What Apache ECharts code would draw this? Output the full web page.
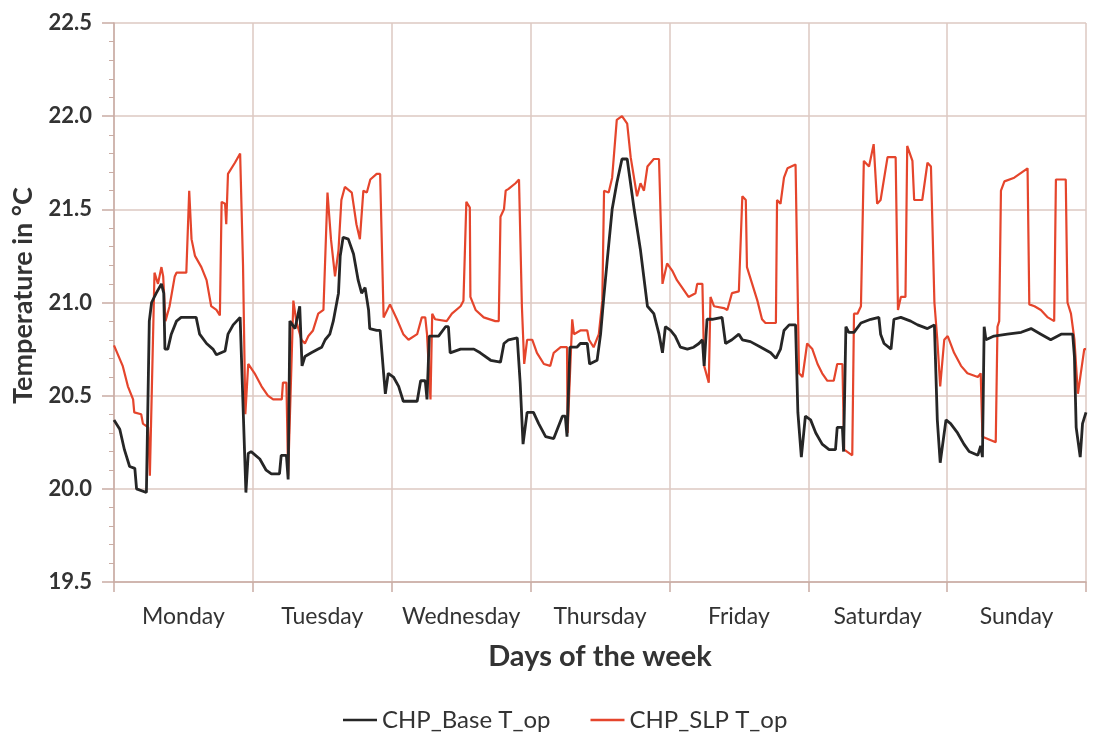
<!DOCTYPE html>
<html>
<head>
<meta charset="utf-8">
<script src="https://cdn.jsdelivr.net/npm/echarts@6/dist/echarts.min.js"></script>
<style>
html,body{margin:0;padding:0;background:#fff;}
#chart{width:1094px;height:740px;}
</style>
</head>
<body>
<div id="chart"></div>
<script>
const days = ['Monday','Tuesday','Wednesday','Thursday','Friday','Saturday','Sunday'];
const seriesNames = ['CHP_Base T_op','CHP_SLP T_op'];

// CHP_Base T_op : hour of week, temperature
const baseHours = [0,1.0,1.8,2.7,3.6,3.9,5.6,5.9,6.1,6.5,7.3,8.2,8.6,8.8,9.3,9.9,10.8,11.6,14.2,14.8,16.0,17.1,17.7,19.2,19.7,20.6,21.8,22.1,22.8,
23.2,23.7,25.2,26.3,27.2,28.6,28.9,29.8,30.1,30.4,31.3,32.1,32.5,33.0,34.1,35.3,35.9,36.5,37.3,37.9,38.8,39.1,39.6,40.5,41.4,42.2,42.8,43.4,44.0,44.2,45.4,46.0,46.6,46.9,47.4,
48.3,49.2,50.0,52.4,53.0,53.8,54.1,54.5,56.1,57.3,57.8,58.1,59.9,62.2,63.3,65.1,66.8,67.4,68.2,69.7,70.2,70.7,71.4,72.5,
73.4,74.6,76.0,77.5,78.0,78.3,78.8,80.0,80.6,81.8,82.2,83.5,84.1,84.6,85.2,86.1,86.9,87.8,88.7,89.9,91.0,92.2,93.3,94.2,94.8,95.3,
96.2,97.0,97.9,99.1,100.2,101.1,101.7,102.0,102.2,102.5,103.4,105.1,105.7,106.8,108.0,108.6,110.0,111.8,113.5,114.4,115.2,115.8,116.7,117.8,118.2,118.8,119.5,
120.4,121.3,122.4,123.6,124.7,125.0,125.9,126.1,126.5,127.0,127.9,129.1,130.8,132.2,132.5,133.1,134.3,134.8,136.0,137.7,138.9,140.6,141.8,142.3,142.8,143.8,
144.6,145.8,146.9,147.8,149.3,149.8,150.1,150.4,150.7,152.1,154.4,156.8,158.5,160.2,161.9,163.7,165.7,166.0,166.3,167.0,167.4,168.0];
const baseTemps = [20.37,20.32,20.21,20.12,20.11,20.0,19.98,19.98,20.9,21.0,21.05,21.1,21.05,20.75,20.75,20.83,20.9,20.92,20.92,20.83,20.78,20.75,20.72,20.74,20.83,20.88,20.92,20.93,19.98,
20.19,20.2,20.16,20.1,20.08,20.08,20.18,20.18,20.05,20.9,20.86,20.98,20.66,20.71,20.73,20.75,20.76,20.8,20.83,20.9,21.05,21.25,21.35,21.34,21.26,21.12,21.05,21.08,20.96,20.86,20.85,20.85,20.62,20.51,20.62,
20.6,20.55,20.47,20.47,20.58,20.58,20.48,20.82,20.82,20.87,20.87,20.73,20.75,20.75,20.73,20.69,20.68,20.78,20.8,20.81,20.57,20.24,20.41,20.41,
20.35,20.28,20.27,20.39,20.39,20.28,20.76,20.76,20.78,20.78,20.67,20.69,20.83,21.01,21.21,21.5,21.64,21.77,21.77,21.5,21.28,20.98,20.94,20.83,20.73,20.87,
20.85,20.82,20.76,20.75,20.76,20.78,20.8,20.66,20.65,20.91,20.91,20.92,20.78,20.8,20.83,20.8,20.79,20.76,20.73,20.7,20.75,20.85,20.88,20.88,20.41,20.17,20.39,
20.37,20.3,20.24,20.21,20.21,20.33,20.33,20.2,20.87,20.84,20.84,20.89,20.91,20.92,20.83,20.78,20.75,20.91,20.92,20.9,20.88,20.86,20.88,20.37,20.14,20.37,
20.35,20.3,20.24,20.2,20.18,20.23,20.17,20.87,20.8,20.82,20.83,20.84,20.86,20.83,20.8,20.83,20.83,20.71,20.33,20.17,20.35,20.41];

// CHP_SLP T_op : hour of week, temperature
const slpHours = [0,1.5,2.4,3.3,3.5,4.7,5.0,5.9,6.2,7.0,7.6,8.2,8.5,8.9,9.6,10.5,10.8,12.5,13.0,13.4,14.0,15.1,16.0,16.8,17.7,18.3,18.6,19.2,19.4,19.7,20.9,21.8,22.3,22.7,23.2,
24.3,25.5,26.6,27.5,29.0,29.2,29.8,30.1,31.0,31.5,32.4,33.0,33.6,34.4,35.3,36.2,36.9,37.5,38.2,38.8,39.3,39.9,41.1,41.9,42.5,43.1,43.7,44.3,45.4,46.0,46.6,47.7,
48.9,50.0,50.9,52.4,53.2,53.8,54.1,54.7,55.0,55.5,57.5,58.4,59.9,60.4,60.9,61.5,61.6,62.5,63.9,65.9,66.5,66.8,67.4,67.7,68.2,69.4,70.0,70.5,70.9,71.4,72.3,
73.1,74.3,75.4,76.0,77.2,78.3,78.4,79.2,79.5,80.6,81.8,82.1,82.9,83.8,84.4,84.7,85.5,86.1,86.9,87.8,88.7,89.3,90.4,91.0,91.6,92.2,93.3,94.2,94.8,95.6,
96.5,97.3,98.2,99.3,100.5,100.8,101.7,102.0,102.8,103.1,103.7,105.4,106.0,106.8,108.0,108.6,109.2,109.4,110.3,111.2,112.0,112.6,114.4,114.6,115.2,115.8,116.4,117.8,118.4,119.0,119.8,
120.7,121.6,122.4,123.3,124.4,125.0,125.9,126.2,127.6,127.9,128.5,129.1,129.6,130.5,131.3,131.9,132.5,133.7,135.1,135.5,136.0,136.8,137.1,138.0,138.3,139.7,140.6,141.2,141.8,142.3,142.8,143.5,
144.1,145.2,146.4,147.5,149.3,149.8,150.1,152.4,152.7,153.0,153.3,153.9,155.6,157.9,158.2,159.1,160.2,161.4,162.5,162.8,164.5,164.8,165.4,166.0,166.6,167.1,167.7,168.0];
const slpTemps = [20.77,20.66,20.55,20.48,20.41,20.4,20.35,20.33,20.07,21.16,21.1,21.19,21.14,20.9,20.98,21.14,21.16,21.16,21.6,21.34,21.25,21.19,21.12,20.98,20.96,20.93,21.54,21.53,21.42,21.69,21.75,21.8,21.2,20.4,20.67,
20.62,20.55,20.5,20.48,20.48,20.57,20.57,20.07,21.01,20.9,20.8,20.78,20.82,20.85,20.94,20.96,21.59,21.34,21.14,21.28,21.55,21.62,21.59,21.42,21.34,21.6,21.59,21.66,21.69,21.69,20.92,20.99,
20.91,20.83,20.8,20.83,20.92,20.92,20.83,20.48,20.94,20.91,20.9,20.94,20.98,21.01,21.54,21.51,21.03,20.96,20.92,20.9,20.9,21.46,21.5,21.6,21.61,21.64,21.66,20.98,20.67,20.8,20.8,
20.73,20.67,20.66,20.73,20.76,20.76,20.3,20.91,20.83,20.85,20.85,20.8,20.76,20.83,21.01,21.6,21.59,21.67,21.98,22.0,21.96,21.78,21.57,21.64,21.6,21.73,21.77,21.77,21.1,21.21,
21.17,21.12,21.08,21.03,21.05,21.1,21.1,20.66,20.57,21.03,20.98,20.97,20.96,21.05,21.06,21.57,21.55,21.19,21.1,21.01,20.91,20.89,20.89,21.55,21.53,21.67,21.72,21.74,20.62,20.6,20.78,
20.75,20.67,20.62,20.58,20.58,20.67,20.67,20.21,20.18,20.94,20.94,20.98,21.76,21.73,21.85,21.53,21.55,21.78,21.78,20.96,21.03,21.03,21.84,21.76,21.55,21.55,21.75,21.73,21.0,20.8,20.55,20.8,
20.82,20.73,20.66,20.62,20.6,20.62,20.28,20.25,20.87,20.9,21.6,21.65,21.67,21.72,20.99,20.98,20.96,20.92,20.9,21.66,21.66,21.0,20.94,20.8,20.51,20.62,20.75,20.75];

const toPairs = (hs, vs) => hs.map((h, i) => [h, vs[i]]);

const FONT = 'Lato';
const TXT = '#333333';
const GRID = '#dcc8c2';
const AXIS = '#c9aca4';

const chart = echarts.init(document.getElementById('chart'), null, {renderer: 'canvas'});
chart.setOption({
  animation: false,
  backgroundColor: '#ffffff',
  textStyle: {fontFamily: FONT},
  grid: {left: 114, right: 8, top: 23, bottom: 158, containLabel: false},
  legend: {
    data: seriesNames,
    left: 338, top: 703,
    icon: 'rect', itemWidth: 34, itemHeight: 2.5, itemGap: 40,
    textStyle: {fontFamily: FONT, fontSize: 24, color: TXT}
  },
  xAxis: [
    {
      type: 'value', min: 0, max: 168, interval: 24,
      axisLine: {show: true, lineStyle: {color: AXIS, width: 1.5}},
      axisTick: {show: true, length: 10, lineStyle: {color: AXIS, width: 1.5}},
      axisLabel: {show: false},
      splitLine: {show: true, lineStyle: {color: GRID, width: 1.5}}
    },
    {
      type: 'category', data: days, position: 'bottom', boundaryGap: true,
      axisLine: {show: false}, axisTick: {show: false}, splitLine: {show: false},
      axisLabel: {show: true, interval: 0, margin: 23, fontFamily: FONT, fontSize: 23, color: TXT},
      name: 'Days of the week', nameLocation: 'middle', nameGap: 60,
      nameTextStyle: {fontFamily: FONT, fontSize: 29, fontWeight: 'bold', color: TXT}
    }
  ],
  yAxis: {
    type: 'value', min: 19.5, max: 22.5, interval: 0.5,
    axisLine: {show: true, lineStyle: {color: AXIS, width: 1.5}},
    axisTick: {show: true, length: 12, lineStyle: {color: AXIS, width: 1.5}},
    minorTick: {show: true, splitNumber: 5, length: 5, lineStyle: {color: AXIS}},
    axisLabel: {margin: 22, fontFamily: FONT, fontSize: 22, fontWeight: 'bold', color: TXT,
      formatter: v => v.toFixed(1)},
    splitLine: {show: true, lineStyle: {color: GRID, width: 1.5}},
    name: 'Temperature in °C', nameLocation: 'middle', nameGap: 77, nameRotate: 90,
    nameTextStyle: {fontFamily: FONT, fontSize: 27, fontWeight: 'bold', color: TXT, padding: [0, 0, 0, 14]}
  },
  series: [
    {
      name: seriesNames[0], type: 'line', xAxisIndex: 0, showSymbol: false,
      data: toPairs(baseHours, baseTemps),
      lineStyle: {color: '#262626', width: 2.8}, itemStyle: {color: '#262626'}, z: 3
    },
    {
      name: seriesNames[1], type: 'line', xAxisIndex: 0, showSymbol: false,
      data: toPairs(slpHours, slpTemps),
      lineStyle: {color: '#e5452c', width: 2.2}, itemStyle: {color: '#e5452c'}, z: 2
    }
  ]
});
</script>
</body>
</html>
